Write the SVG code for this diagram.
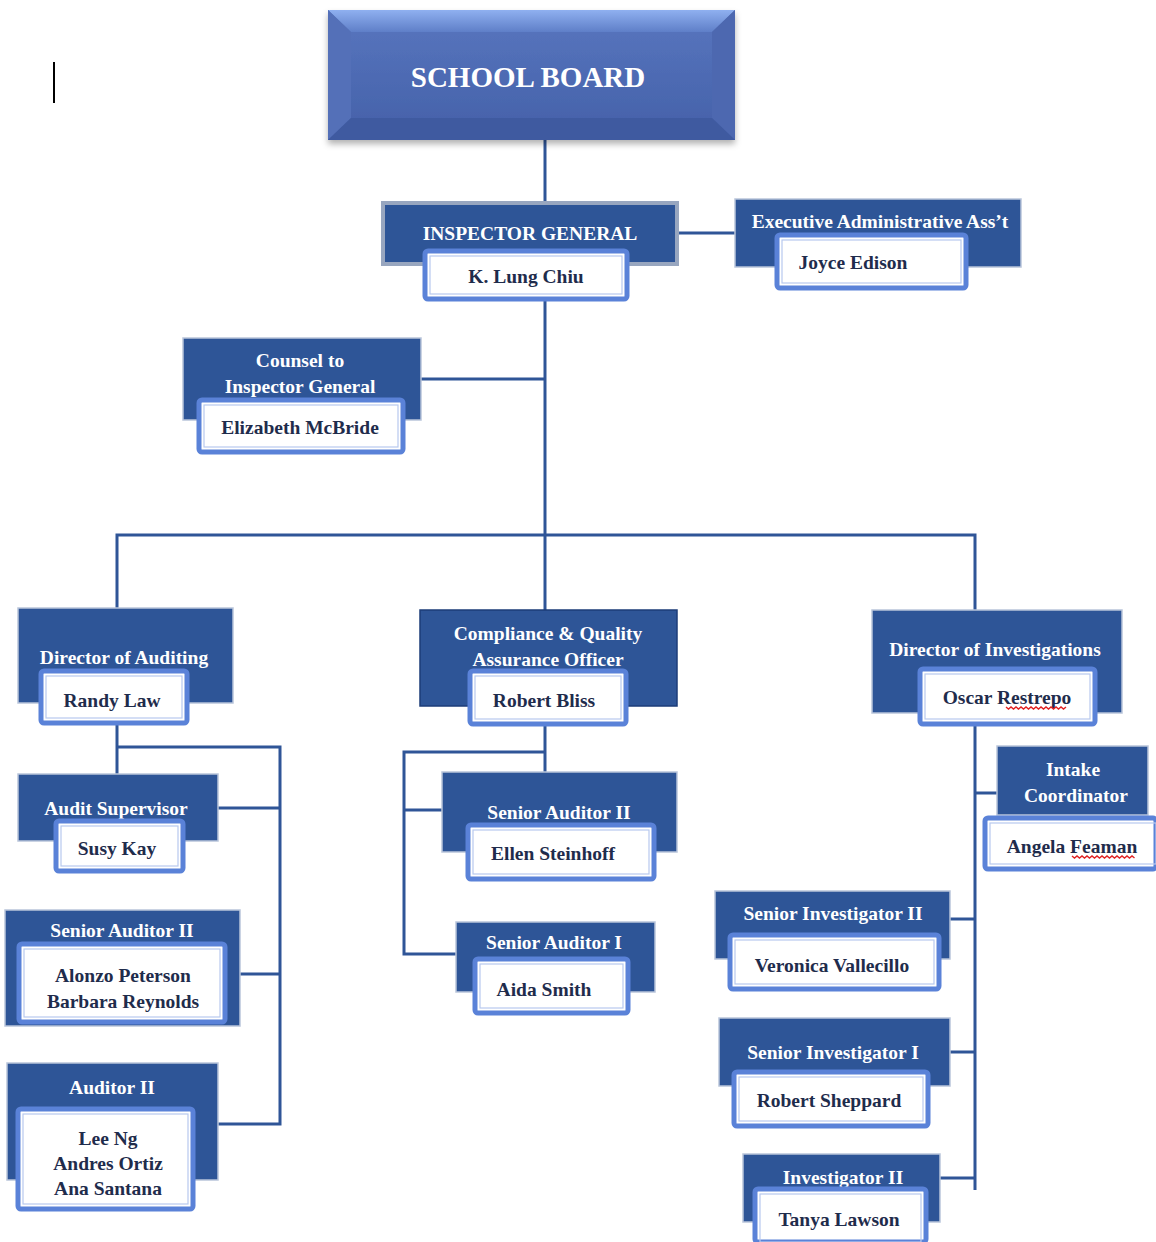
<svg xmlns="http://www.w3.org/2000/svg" width="1156" height="1242" viewBox="0 0 1156 1242">
<style>
.box{fill:#2e5597;stroke:#b9c5da;stroke-width:1.5}
.nm{fill:#ffffff;stroke:#5a82d8;stroke-width:5}
.nmi{fill:none;stroke:#b7c9ee;stroke-width:1.2}
.t{font-family:"Liberation Serif","Times New Roman",serif;font-weight:bold;font-size:19.5px;fill:#ffffff;text-anchor:middle}
.n{font-family:"Liberation Serif","Times New Roman",serif;font-weight:bold;font-size:19.5px;fill:#1f2c4c;text-anchor:middle}
.c{fill:none;stroke:#2f5597;stroke-width:3}
.sq{fill:none;stroke:#e02020;stroke-width:1.4}
</style>
<defs>
<linearGradient id="sb" x1="0" y1="0" x2="0" y2="1">
<stop offset="0" stop-color="#5876bf"/>
<stop offset="1" stop-color="#4460a8"/>
</linearGradient>
<linearGradient id="sbt" x1="0" y1="0" x2="0" y2="1">
<stop offset="0" stop-color="#8fb0f0"/>
<stop offset="1" stop-color="#5f7fc8"/>
</linearGradient>
<filter id="sh" x="-5%" y="-5%" width="110%" height="120%">
<feDropShadow dx="0" dy="4" stdDeviation="3" flood-color="#000" flood-opacity="0.3"/>
</filter>
</defs>
<rect width="1156" height="1242" fill="#ffffff"/>
<line x1="54" y1="62" x2="54" y2="103" stroke="#000" stroke-width="2"/>

<g id="connectors">
<path class="c" d="M545 120 V205"/>
<path class="c" d="M678 233 H735"/>
<path class="c" d="M545 300 V535"/>
<path class="c" d="M421 379 H545"/>
<path class="c" d="M117 610 V535 H975 V612"/>
<path class="c" d="M545 535 V612"/>
<path class="c" d="M117 724 V775"/>
<path class="c" d="M117 747 H280 V1124 H218"/>
<path class="c" d="M218 808 H280"/>
<path class="c" d="M240 974 H280"/>
<path class="c" d="M545 725 V772"/>
<path class="c" d="M545 752 H404 V954 H456"/>
<path class="c" d="M404 810 H442"/>
<path class="c" d="M975 725 V1190"/>
<path class="c" d="M975 793 H997"/>
<path class="c" d="M950 919 H975"/>
<path class="c" d="M950 1052 H975"/>
<path class="c" d="M940 1178 H975"/>
</g>

<g id="school-board">
<rect x="328" y="10" width="407" height="130" fill="url(#sb)" filter="url(#sh)"/>
<polygon points="328,10 735,10 712,32 351,32" fill="url(#sbt)"/>
<polygon points="328,10 351,32 351,118 328,140" fill="#5470b8"/>
<polygon points="735,10 712,32 712,118 735,140" fill="#4d68b0"/>
<polygon points="328,140 351,118 712,118 735,140" fill="#3f5aa0"/>
<text x="528" y="87" class="t" style="font-size:29px">SCHOOL BOARD</text>
</g>

<g id="inspector-general">
<rect x="383" y="203" width="294" height="61" fill="#2e5597" stroke="#98a6bf" stroke-width="4"/>
<text x="530" y="240" class="t">INSPECTOR GENERAL</text>
<rect x="425" y="251" width="202" height="48" rx="3" class="nm"/>
<rect x="430" y="256" width="192" height="38" class="nmi"/>
<text x="526" y="283" class="n">K. Lung Chiu</text>
</g>

<g id="exec-admin">
<rect x="735" y="199" width="286" height="68" class="box"/>
<text x="880" y="228" class="t">Executive Administrative Ass’t</text>
<rect x="777" y="235" width="189" height="53" rx="3" class="nm"/>
<rect x="782" y="240" width="179" height="43" class="nmi"/>
<text x="853" y="269" class="n">Joyce Edison</text>
</g>

<g id="counsel">
<rect x="183" y="338" width="238" height="82" class="box"/>
<text x="300" y="367" class="t">Counsel to</text>
<text x="300" y="393" class="t">Inspector General</text>
<rect x="199" y="400" width="204" height="52" rx="3" class="nm"/>
<rect x="204" y="405" width="194" height="42" class="nmi"/>
<text x="300" y="434" class="n">Elizabeth McBride</text>
</g>

<g id="director-auditing">
<rect x="18" y="608" width="215" height="95" class="box"/>
<text x="124" y="664" class="t">Director of Auditing</text>
<rect x="41" y="671" width="146" height="52" rx="3" class="nm"/>
<rect x="46" y="676" width="136" height="42" class="nmi"/>
<text x="112" y="707" class="n">Randy Law</text>
</g>

<g id="audit-supervisor">
<rect x="18" y="774" width="200" height="67" class="box"/>
<text x="116" y="815" class="t">Audit Supervisor</text>
<rect x="56" y="821" width="127" height="50" rx="3" class="nm"/>
<rect x="61" y="826" width="117" height="40" class="nmi"/>
<text x="117" y="855" class="n">Susy Kay</text>
</g>

<g id="senior-auditor-ii-left">
<rect x="5" y="910" width="235" height="116" class="box"/>
<text x="122" y="937" class="t">Senior Auditor II</text>
<rect x="19" y="944" width="206" height="78" rx="3" class="nm"/>
<rect x="24" y="949" width="196" height="68" class="nmi"/>
<text x="123" y="982" class="n">Alonzo Peterson</text>
<text x="123" y="1008" class="n">Barbara Reynolds</text>
</g>

<g id="auditor-ii">
<rect x="7" y="1063" width="211" height="117" class="box"/>
<text x="112" y="1094" class="t">Auditor II</text>
<rect x="18" y="1109" width="175" height="100" rx="3" class="nm"/>
<rect x="23" y="1114" width="165" height="90" class="nmi"/>
<text x="108" y="1145" class="n">Lee Ng</text>
<text x="108" y="1170" class="n">Andres Ortiz</text>
<text x="108" y="1195" class="n">Ana Santana</text>
</g>

<g id="compliance">
<rect x="420" y="610" width="257" height="96" fill="#2e5597" stroke="#1d3d78" stroke-width="1.5"/>
<text x="548" y="640" class="t">Compliance &amp; Quality</text>
<text x="548" y="666" class="t">Assurance Officer</text>
<rect x="470" y="671" width="156" height="53" rx="3" class="nm"/>
<rect x="475" y="676" width="146" height="43" class="nmi"/>
<text x="544" y="707" class="n">Robert Bliss</text>
</g>

<g id="senior-auditor-ii-mid">
<rect x="442" y="772" width="235" height="80" class="box"/>
<text x="559" y="819" class="t">Senior Auditor II</text>
<rect x="468" y="825" width="186" height="54" rx="3" class="nm"/>
<rect x="473" y="830" width="176" height="44" class="nmi"/>
<text x="553" y="860" class="n">Ellen Steinhoff</text>
</g>

<g id="senior-auditor-i">
<rect x="456" y="922" width="199" height="70" class="box"/>
<text x="554" y="949" class="t">Senior Auditor I</text>
<rect x="475" y="959" width="153" height="54" rx="3" class="nm"/>
<rect x="480" y="964" width="143" height="44" class="nmi"/>
<text x="544" y="996" class="n">Aida Smith</text>
</g>

<g id="director-investigations">
<rect x="872" y="610" width="250" height="103" class="box"/>
<text x="995" y="656" class="t">Director of Investigations</text>
<rect x="920" y="669" width="175" height="55" rx="3" class="nm"/>
<rect x="925" y="674" width="165" height="45" class="nmi"/>
<text x="1007" y="704" class="n">Oscar Restrepo</text>
<path class="sq" d="M1006 707 l2.5 2 l2.5 -2 l2.5 2 l2.5 -2 l2.5 2 l2.5 -2 l2.5 2 l2.5 -2 l2.5 2 l2.5 -2 l2.5 2 l2.5 -2 l2.5 2 l2.5 -2 l2.5 2 l2.5 -2 l2.5 2 l2.5 -2 l2.5 2 l2.5 -2 l2.5 2 l2.5 -2 l2.5 2 l2.5 -2"/>
</g>

<g id="intake-coordinator">
<rect x="997" y="746" width="151" height="69" class="box"/>
<text x="1073" y="776" class="t">Intake</text>
<text x="1076" y="802" class="t">Coordinator</text>
<rect x="985" y="818" width="171" height="51" rx="3" class="nm"/>
<rect x="990" y="823" width="166" height="41" class="nmi"/>
<text x="1072" y="853" class="n">Angela Feaman</text>
<path class="sq" d="M1072 856 l2.5 2 l2.5 -2 l2.5 2 l2.5 -2 l2.5 2 l2.5 -2 l2.5 2 l2.5 -2 l2.5 2 l2.5 -2 l2.5 2 l2.5 -2 l2.5 2 l2.5 -2 l2.5 2 l2.5 -2 l2.5 2 l2.5 -2 l2.5 2 l2.5 -2 l2.5 2 l2.5 -2 l2.5 2 l2.5 -2 l2.5 2"/>
</g>

<g id="senior-investigator-ii">
<rect x="715" y="891" width="235" height="68" class="box"/>
<text x="833" y="920" class="t">Senior Investigator II</text>
<rect x="730" y="935" width="209" height="54" rx="3" class="nm"/>
<rect x="735" y="940" width="199" height="44" class="nmi"/>
<text x="832" y="972" class="n">Veronica Vallecillo</text>
</g>

<g id="senior-investigator-i">
<rect x="719" y="1018" width="231" height="68" class="box"/>
<text x="833" y="1059" class="t">Senior Investigator I</text>
<rect x="734" y="1072" width="194" height="54" rx="3" class="nm"/>
<rect x="739" y="1077" width="184" height="44" class="nmi"/>
<text x="829" y="1107" class="n">Robert Sheppard</text>
</g>

<g id="investigator-ii">
<rect x="743" y="1154" width="197" height="68" class="box"/>
<text x="843" y="1184" class="t">Investigator II</text>
<rect x="755" y="1189" width="171" height="53" rx="3" class="nm"/>
<rect x="760" y="1194" width="161" height="48" class="nmi"/>
<text x="839" y="1226" class="n">Tanya Lawson</text>
</g>
</svg>
